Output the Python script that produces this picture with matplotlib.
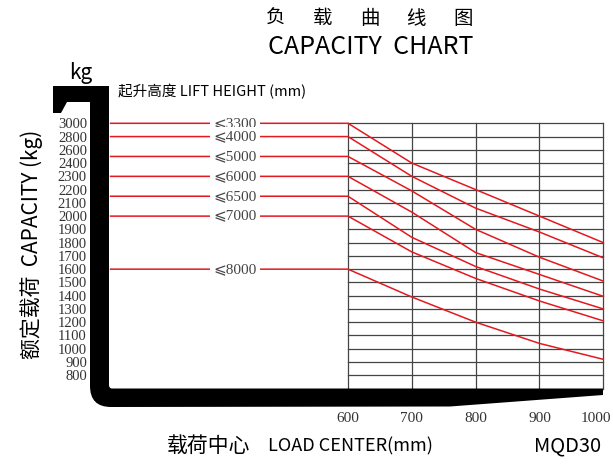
import numpy as np
import matplotlib
matplotlib.use("Agg")
import matplotlib.pyplot as plt
from matplotlib.path import Path
from matplotlib.patches import PathPatch
from matplotlib.transforms import ScaledTranslation

plt.rcParams['font.family'] = ['Noto Sans CJK SC', 'DejaVu Sans']

# data
load_center = [600, 700, 800, 900, 1000]
lift_heights = ["3300", "4000", "5000", "6000", "6500", "7000", "8000"]
cap_3300 = [3000, 2400, 2200, 2000, 1800]
cap_4000 = [2800, 2300, 2060, 1880, 1685]
cap_5000 = [2500, 2190, 1900, 1690, 1510]
cap_6000 = [2300, 2030, 1725, 1560, 1395]
cap_6500 = [2150, 1840, 1620, 1450, 1300]
cap_7000 = [2000, 1730, 1530, 1360, 1210]
cap_8000 = [1600, 1390, 1200, 1040, 920]
curves = [cap_3300, cap_4000, cap_5000, cap_6000, cap_6500, cap_7000, cap_8000]

y_ticks = [3000, 2800, 2600, 2400, 2300, 2200, 2100, 2000, 1900, 1800,
           1700, 1600, 1500, 1400, 1300, 1200, 1100, 1000, 900, 800]
x_ticks = [600, 700, 800, 900, 1000]
title_chars = "负载曲线图"

W, H = 613, 469
RED = "#e3191f"

# the kg axis is not linear: every labelled value gets one row
kg_asc = np.array(y_ticks[::-1], dtype=float)
rows = np.arange(len(kg_asc), dtype=float)


def to_row(v):
    v = np.asarray(v, dtype=float)
    r = np.interp(v, kg_asc, rows)
    r = np.where(v < kg_asc[0], (v - kg_asc[0]) / 100.0, r)
    r = np.where(v > kg_asc[-1], rows[-1] + (v - kg_asc[-1]) / 200.0, r)
    return r


def from_row(r):
    r = np.asarray(r, dtype=float)
    v = np.interp(r, rows, kg_asc)
    v = np.where(r < 0, kg_asc[0] + r * 100.0, v)
    v = np.where(r > rows[-1], kg_asc[-1] + (r - rows[-1]) * 200.0, v)
    return v


def px(x, y):
    return x / W, 1 - y / H


fig = plt.figure(figsize=(W / 100, H / 100), dpi=100)
fig.patch.set_facecolor("white")

# grid area
left, right, top, bottom = 348, 603.3, 123.3, 388.5
ax = fig.add_axes([left / W, 1 - bottom / H, (right - left) / W, (bottom - top) / H])
ax.set_yscale("function", functions=(to_row, from_row))
ax.set_xlim(600, 1000)
ax.set_ylim(700, 3000)
ax.set_xticks(x_ticks)
ax.set_yticks(y_ticks)
ax.minorticks_off()
for s in ax.spines.values():
    s.set_visible(False)
ax.grid(True, color="#444444", linewidth=0.9)
for gl in ax.get_xgridlines() + ax.get_ygridlines():
    gl.set_clip_on(False)
ax.tick_params(axis="y", length=0, pad=188, labelsize=10.5, labelcolor="#333333")
ax.tick_params(axis="x", length=0, pad=17, labelsize=11, labelcolor="#333333")
for lab in ax.get_xticklabels() + ax.get_yticklabels():
    lab.set_fontfamily("Liberation Serif")
# last x label sits a bit left so it stays inside the picture
last = ax.get_xticklabels()[-1]
last.set_transform(last.get_transform() + ScaledTranslation(-0.07, 0, fig.dpi_scale_trans))

# capacity lines, flat part runs left of the grid
for name, cap in zip(lift_heights, curves):
    ax.plot([228] + load_center, [cap[0]] + cap, color=RED, lw=1.1,
            clip_on=False, zorder=3)
    ax.text(423, cap[0], "⩽" + name, ha="center", va="center", fontsize=11,
            color="#444444", family=["Liberation Serif", "DejaVu Sans"],
            bbox=dict(facecolor="white", edgecolor="none", pad=2.5), zorder=4)

# fork shape drawn in pixel space
ov = fig.add_axes([0, 0, 1, 1], zorder=5)
ov.set_xlim(0, W)
ov.set_ylim(H, 0)
ov.axis("off")
ov.patch.set_alpha(0)
verts = [(53, 86), (109, 86), (109, 385), (109, 388.5), (112, 388.5),
         (603, 388.5), (603, 395), (450, 406.5), (111, 407),
         (90, 407), (90, 386), (90, 102), (67, 102), (61, 113), (53, 113), (53, 86)]
codes = [Path.MOVETO, Path.LINETO, Path.LINETO, Path.CURVE3, Path.CURVE3,
         Path.LINETO, Path.LINETO, Path.LINETO, Path.LINETO,
         Path.CURVE3, Path.CURVE3, Path.LINETO, Path.LINETO, Path.LINETO,
         Path.LINETO, Path.CLOSEPOLY]
ov.add_patch(PathPatch(Path(verts, codes), facecolor="black", edgecolor="none"))

# titles and labels
for i, ch in enumerate(title_chars):
    fig.text(*px(276 + 46.7 * i, 18), ch, ha="center", va="center", fontsize=14)
fig.text(*px(371, 47), "CAPACITY  CHART", ha="center", va="center", fontsize=18)
fig.text(*px(81, 73), "kg", ha="center", va="center", fontsize=15)
fig.text(*px(118, 92), "起升高度 LIFT HEIGHT (mm)", ha="left", va="center", fontsize=10.5)
fig.text(*px(32, 244), "额定载荷  CAPACITY (kg)", ha="center", va="center",
         rotation=90, fontsize=15)
fig.text(*px(167, 446), "载荷中心", ha="left", va="center", fontsize=15)
fig.text(*px(268, 446), "LOAD CENTER(mm)", ha="left", va="center", fontsize=13)
fig.text(*px(568, 446), "MQD30", ha="center", va="center", fontsize=14.5)

fig.savefig("out.png", dpi=100, facecolor="white")
